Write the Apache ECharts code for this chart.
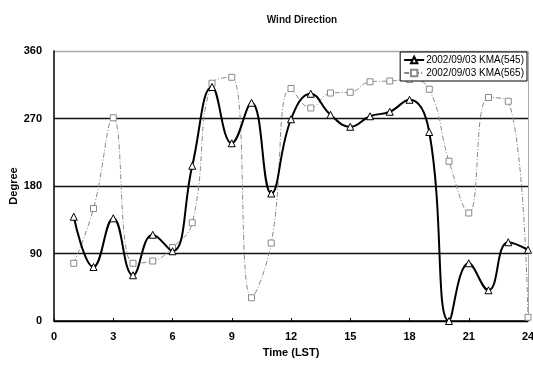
<!DOCTYPE html>
<html>
<head>
<meta charset="utf-8">
<script src="https://cdn.jsdelivr.net/npm/echarts@6/dist/echarts.min.js"></script>
<style>
  html, body { margin: 0; padding: 0; background: #fff; }
  #chart { width: 533px; height: 367px; }
</style>
</head>
<body>
<div id="chart"></div>
<script>
// hours 1..24 (LST)
const hours = [1, 2, 3, 4, 5, 6, 7, 8, 9, 10, 11, 12, 13, 14, 15, 16, 17, 18, 19, 20, 21, 22, 23, 24]
const kma545 = [139, 72, 137, 61, 115, 93, 207, 312, 237, 291, 170, 269, 303, 275, 259, 273, 279, 295, 252, 0, 77, 41, 105, 95]
const kma565 = [77, 150, 271, 77, 80, 98, 131, 317, 325, 31, 104, 310, 284, 304, 305, 319, 320, 322, 309, 213, 144, 298, 293, 5]
const yTicks = [0, 90, 180, 270, 360]
const xTicks = [0, 3, 6, 9, 12, 15, 18, 21, 24]

const pairs = (ys) => hours.map((h, i) => [h, ys[i]])
const font = 'Liberation Sans, Arial, sans-serif'

const chart = echarts.init(document.getElementById('chart'))
chart.setOption({
  animation: false,
  title: {
    text: 'Wind Direction',
    left: 297,
    textAlign: 'center',
    top: 10,
    textStyle: { fontFamily: font, fontSize: 10, fontWeight: 'bold', color: '#111' }
  },
  legend: {
    orient: 'vertical',
    right: 6,
    top: 52,
    padding: [3, 3, 3, 3],
    itemGap: 3,
    itemWidth: 20,
    itemHeight: 8,
    backgroundColor: '#fff',
    borderColor: '#000',
    borderWidth: 1,
    borderRadius: 0,
    textStyle: { fontFamily: font, fontSize: 10, color: '#000', padding: [0, 0, 0, -3] },
    data: ['2002/09/03 KMA(545)', '2002/09/03 KMA(565)']
  },
  grid: { left: 54, right: 5, top: 51, bottom: 46, show: false, outerBoundsMode: 'none' },
  xAxis: {
    type: 'value',
    min: 0,
    max: 24,
    interval: 3,
    name: 'Time (LST)',
    nameLocation: 'middle',
    nameGap: 26,
    nameMoveOverlap: false,
    nameTextStyle: { fontFamily: font, fontSize: 11, fontWeight: 'bold', color: '#000' },
    axisLine: { lineStyle: { color: '#000', width: 1.5 } },
    axisTick: { inside: true, length: 3, lineStyle: { color: '#000' } },
    axisLabel: {
      fontFamily: font, fontSize: 11, fontWeight: 'bold', color: '#000', margin: 10,
      formatter: (v) => xTicks.includes(v) ? String(v) : ''
    },
    splitLine: { show: false }
  },
  yAxis: [
    {
      type: 'value',
      min: 0,
      max: 360,
      interval: 90,
      name: 'Degree',
      nameLocation: 'middle',
      nameGap: 35,
      nameMoveOverlap: false,
      nameTextStyle: { fontFamily: font, fontSize: 11, fontWeight: 'bold', color: '#000' },
      axisLine: { show: true, lineStyle: { color: '#000', width: 1.5 } },
      axisTick: { show: false },
      axisLabel: {
        fontFamily: font, fontSize: 11, fontWeight: 'bold', color: '#000', margin: 12,
        formatter: (v) => yTicks.includes(v) ? String(v) : ''
      },
      splitLine: {
        show: true,
        lineStyle: { color: ['#000', '#111', '#111', '#111', '#aaa'], width: 1.3 }
      }
    },
    {
      type: 'value',
      min: 0,
      max: 360,
      interval: 90,
      position: 'right',
      axisLine: { show: true, lineStyle: { color: '#999', type: 'dotted', width: 1 } },
      axisTick: { show: false },
      axisLabel: { show: false },
      splitLine: { show: false }
    }
  ],
  series: [
    {
      name: '2002/09/03 KMA(545)',
      type: 'line',
      smooth: 0.45,
      data: pairs(kma545),
      symbol: 'triangle',
      symbolSize: 7,
      lineStyle: { color: '#000', width: 2 },
      itemStyle: { color: '#fff', borderColor: '#000', borderWidth: 1 },
      z: 3
    },
    {
      name: '2002/09/03 KMA(565)',
      type: 'line',
      smooth: 0.45,
      data: pairs(kma565),
      symbol: 'rect',
      symbolSize: 6,
      lineStyle: { color: '#888', width: 1, type: [5, 2, 1, 2] },
      itemStyle: { color: '#fff', borderColor: '#888', borderWidth: 1 },
      z: 2
    }
  ]
})
</script>
</body>
</html>
